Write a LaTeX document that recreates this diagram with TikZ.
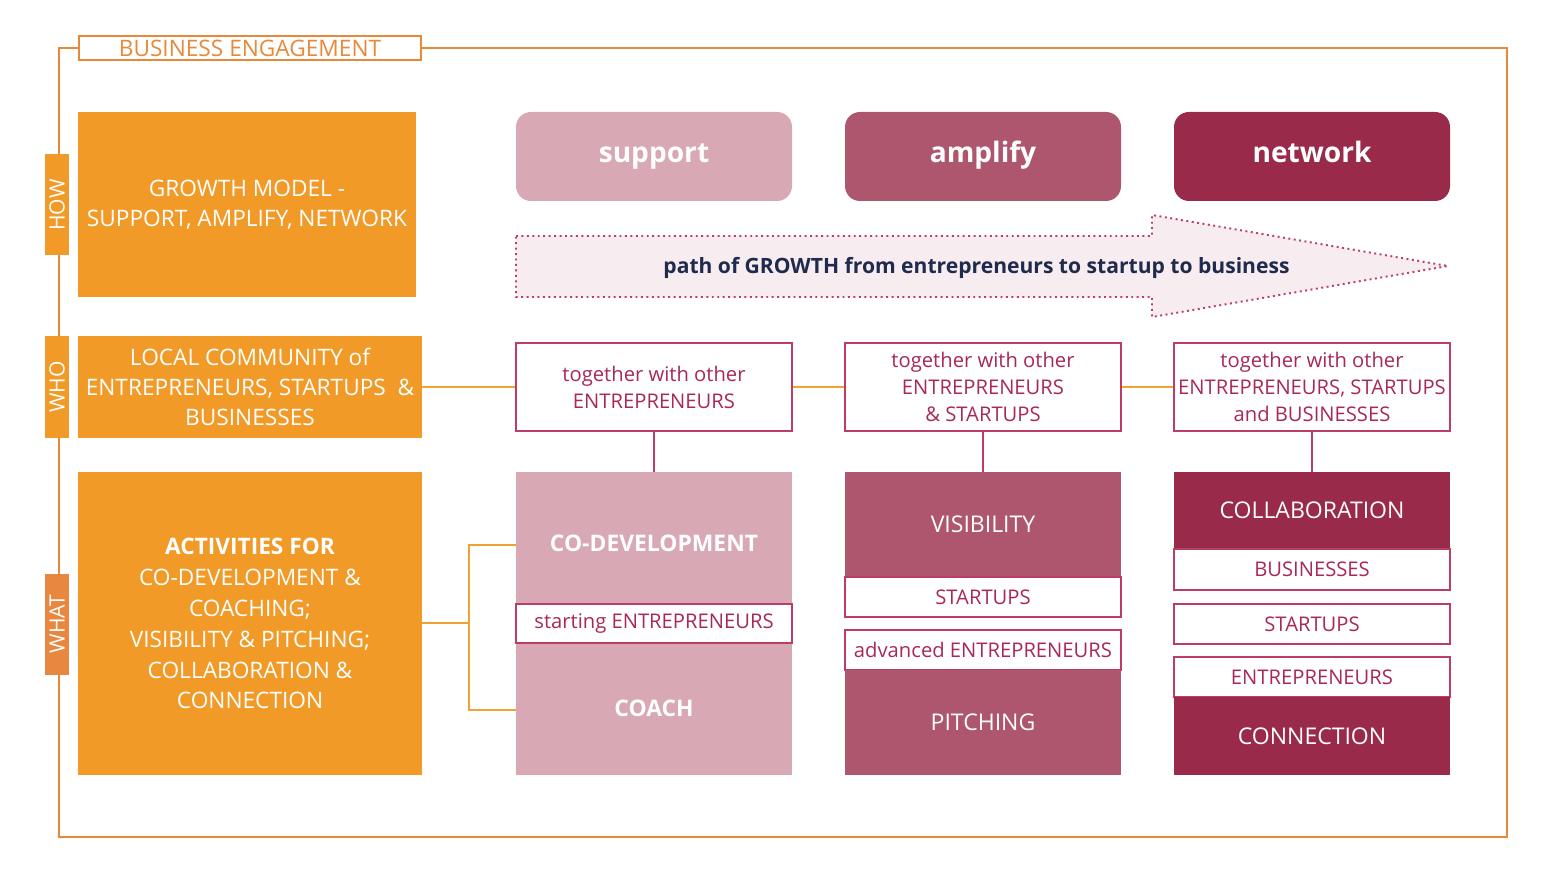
\documentclass[tikz,border=0pt]{standalone}
\usepackage{fontspec}
\setmainfont{Open Sans}
\usepackage{xcolor}
\usepackage{tikz}
\usetikzlibrary{positioning,calc}

\definecolor{engorange}{HTML}{F29A27}
\definecolor{whatorange}{HTML}{E8873F}
\definecolor{frameorange}{HTML}{E8893A}
\definecolor{linkorange}{HTML}{F2A232}
\definecolor{supportpink}{HTML}{D8A8B5}
\definecolor{amplifyrose}{HTML}{AD566E}
\definecolor{networkwine}{HTML}{9A2A4A}
\definecolor{pathred}{HTML}{BC3D66}
\definecolor{pathtext}{HTML}{A8285A}
\definecolor{arrowfill}{HTML}{F7ECF0}
\definecolor{navytext}{HTML}{1F2A4C}

\begin{document}
\begin{tikzpicture}[
    font=\fontsize{12}{17}\selectfont,
    orangebox/.style={
        fill=engorange,
        text=white,
        align=center,
        inner sep=0pt,
        font=\fontsize{12.9}{17.3}\selectfont
    },
    tabbox/.style={
        fill=engorange,
        text=white,
        rotate=90,
        minimum width=2.02cm,
        minimum height=0.48cm,
        inner sep=0pt,
        font=\fontsize{12}{13}\selectfont
    },
    header/.style={
        rounded corners=3mm,
        minimum width=5.52cm,
        minimum height=1.78cm,
        text height=0.82em,
        text depth=0.1em,
        text=white,
        font=\bfseries\fontsize{16}{19}\selectfont
    },
    whobox/.style={
        draw=pathred,
        line width=1.1pt,
        fill=white,
        text=pathtext,
        minimum width=5.52cm,
        minimum height=1.76cm,
        align=center,
        inner sep=0pt,
        font=\fontsize{11.5}{15.3}\selectfont
    },
    block/.style={
        minimum width=5.52cm,
        inner sep=0pt,
        text=white,
        font=\fontsize{13.1}{15}\selectfont
    },
    tagbox/.style={
        draw=pathred,
        line width=1.1pt,
        fill=white,
        text=pathtext,
        minimum width=5.52cm,
        minimum height=0.8cm,
        inner sep=0pt,
        font=\fontsize{11.5}{13}\selectfont
    },
    frameline/.style={draw=frameorange, line width=1.1pt},
    orangelink/.style={draw=linkorange, line width=1.1pt},
    redlink/.style={draw=pathred, line width=1.1pt}
]
\useasboundingbox (0,0) rectangle (31.04,17.6);

% title label and frame
\node[draw=frameorange, line width=1.1pt, fill=white, text=frameorange,
      minimum width=6.84cm, minimum height=0.48cm, inner sep=0pt,
      font=\fontsize{12.9}{13}\selectfont] (title) at (5.0,16.64)
{BUSINESS ENGAGEMENT};

\draw[frameline] (title.west) -- (1.18,16.64) |- (30.14,0.86) |- (title.east);

% row tabs
\node[tabbox] (how) at (1.14,13.5) {HOW};
\node[tabbox] (who) at (1.14,9.86) {WHO};
\node[tabbox, fill=whatorange] (what) at (1.14,5.12) {WHAT};

% left column
\node[orangebox, minimum width=6.76cm, minimum height=3.7cm] (model) at (4.94,13.51)
{GROWTH MODEL -\\SUPPORT, AMPLIFY, NETWORK};

\node[orangebox, minimum width=6.88cm, minimum height=2.04cm] (community) at (5.0,9.86)
{LOCAL COMMUNITY of\\ENTREPRENEURS, STARTUPS~~\&\\BUSINESSES};

\node[orangebox, minimum width=6.88cm, minimum height=6.06cm,
      font=\fontsize{12.9}{17.6}\selectfont] (activities) at (5.0,5.13)
{\textbf{ACTIVITIES FOR}\\CO-DEVELOPMENT \&\\COACHING;\\VISIBILITY \& PITCHING;\\COLLABORATION \&\\CONNECTION};

% header boxes
\node[header, fill=supportpink] (support) at (13.08,14.47) {support};
\node[header, fill=amplifyrose] (amplify) at (19.66,14.47) {amplify};
\node[header, fill=networkwine] (network) at (26.24,14.47) {network};

% growth arrow
\path[draw=pathred, line width=1.1pt, dotted, fill=arrowfill]
    (10.32,12.88) -- (23.04,12.88) -- (23.04,13.3) -- (28.96,12.28)
    -- (23.04,11.26) -- (23.04,11.66) -- (10.32,11.66) -- cycle;
\node[text=navytext, font=\bfseries\fontsize{12}{13}\selectfont] (growth) at (19.53,12.25)
{path of GROWTH from entrepreneurs to startup to business};

% who row
\node[whobox] (who1) at (13.08,9.86) {together with other\\ENTREPRENEURS};
\node[whobox] (who2) at (19.66,9.86) {together with other\\ENTREPRENEURS\\\& STARTUPS};
\node[whobox] (who3) at (26.24,9.86) {together with other\\ENTREPRENEURS, STARTUPS\\and BUSINESSES};

\draw[orangelink] (community.east) -- (who1.west);
\draw[orangelink] (who1.east) -- (who2.west);
\draw[orangelink] (who2.east) -- (who3.west);

% support column
\node[block, fill=supportpink, minimum height=6.06cm] (supp) at (13.08,5.13) {};
\node[text=white, font=\bfseries\fontsize{13}{15}\selectfont] (codev) at (13.08,6.74) {CO-DEVELOPMENT};
\node[text=white, font=\bfseries\fontsize{13}{15}\selectfont] (coach) at (13.08,3.44) {COACH};
\node[tagbox, minimum height=0.78cm] (starting) at (13.08,5.13) {starting ENTREPRENEURS};

% amplify column
\node[block, fill=amplifyrose, minimum height=2.1cm] (vis) at (19.66,7.11) {VISIBILITY};
\node[tagbox] (ampstart) at (19.66,5.66) {STARTUPS};
\node[tagbox] (advanced) at (19.66,4.6) {advanced ENTREPRENEURS};
\node[block, fill=amplifyrose, minimum height=2.1cm] (pitch) at (19.66,3.15) {PITCHING};

% network column
\node[block, fill=networkwine, minimum height=1.54cm] (collab) at (26.24,7.39) {COLLABORATION};
\node[tagbox, minimum height=0.82cm] (netbiz) at (26.24,6.21) {BUSINESSES};
\node[tagbox] (netstart) at (26.24,5.12) {STARTUPS};
\node[tagbox] (netentre) at (26.24,4.06) {ENTREPRENEURS};
\node[block, fill=networkwine, minimum height=1.56cm] (connect) at (26.24,2.88) {CONNECTION};

% links to activity columns
\draw[redlink] (who1.south) -- (supp.north);
\draw[redlink] (who2.south) -- (vis.north);
\draw[redlink] (who3.south) -- (collab.north);

% activities bracket
\coordinate (fork) at (9.38,5.14);
\draw[orangelink] (activities.east |- fork) -- (fork);
\draw[orangelink] (supp.west |- 0,6.7) -| (fork);
\draw[orangelink] (supp.west |- 0,3.4) -| (fork);

\end{tikzpicture}
\end{document}
